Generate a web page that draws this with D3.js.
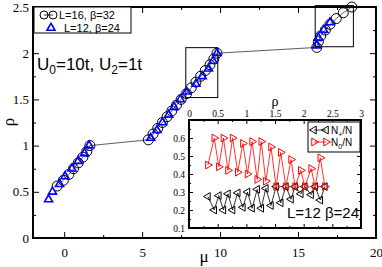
<!DOCTYPE html>
<html>
<head>
<meta charset="utf-8">
<script src="https://cdn.jsdelivr.net/npm/d3@7"></script>
<style>
  body { margin: 0; background: #fff; }
  .tk text { font-family: "Liberation Serif", "Times New Roman", serif; }
</style>
</head>
<body>
<div id="chart"></div>
<script>
// L=16, beta=32 (circles, joined by a line)
const muL16 = [-0.45, -0.05, 0.3, 0.6, 0.9, 1.2, 1.45, 1.65,
  5.4, 5.7, 6.0, 6.3, 6.6, 6.9, 7.2, 7.5, 7.85, 8.15, 8.45, 8.75, 9.05, 9.35, 9.6, 9.8,
  16.2, 16.3, 16.45, 16.75, 17.05, 17.45, 17.9, 18.45];
const rhoL16 = [0.5625, 0.625, 0.6875, 0.75, 0.8125, 0.875, 0.9375, 1.0,
  1.0625, 1.125, 1.1875, 1.25, 1.3125, 1.375, 1.4375, 1.5, 1.5625, 1.625, 1.6875, 1.75, 1.8125, 1.875, 1.9375, 2.0,
  2.0625, 2.125, 2.1875, 2.25, 2.3125, 2.375, 2.4375, 2.5];

// L=12, beta=24 (triangles)
const muL12 = [-1.0, -0.75, -0.3, 0.05, 0.5, 0.9, 1.3, 1.6,
  5.55, 5.95, 6.3, 6.7, 7.05, 7.45, 7.85, 8.45, 8.85, 9.25, 9.55, 9.8,
  16.2, 16.3, 16.65, 17.05];
const rhoL12 = [0.417, 0.5, 0.583, 0.667, 0.75, 0.833, 0.917, 1.0,
  1.083, 1.167, 1.25, 1.333, 1.417, 1.5, 1.583, 1.667, 1.75, 1.833, 1.917, 2.0,
  2.083, 2.167, 2.25, 2.333];

// highlighted windows [mu0, mu1, rho0, rho1]
const boxes = [[7.8, 9.85, 1.52, 2.06], [16.1, 18.55, 2.07, 2.515]];

// inset: fractions vs rho, L=12 beta=24
const rhoIn = [0.33, 0.44, 0.52, 0.60, 0.68, 0.76, 0.85, 0.94, 1.02, 1.10, 1.19, 1.26, 1.34,
  1.43, 1.52, 1.60, 1.69, 1.78, 1.85, 1.95, 2.02, 2.13, 2.20, 2.29, 2.37];
const n0 = [0.45, 0.60, 0.44, 0.60, 0.42, 0.60, 0.41, 0.57, 0.40, 0.58, 0.37, 0.58, 0.36,
  0.55, 0.33, 0.52, 0.33, 0.48, 0.33, 0.42, 0.33, 0.43, 0.33, 0.49, 0.33];
const nPlus = [0.275, 0.20, 0.28, 0.20, 0.29, 0.20, 0.295, 0.215, 0.30, 0.21, 0.315, 0.21, 0.32,
  0.225, 0.33, 0.24, 0.33, 0.26, 0.33, 0.29, 0.33, 0.285, 0.33, 0.255, 0.33];

const xTicks = [0, 5, 10, 15, 20];
const yTicks = [0, 0.5, 1, 1.5, 2, 2.5];
const xiTicks = [0, 0.5, 1, 1.5, 2, 2.5, 3];
const yiTicks = [0.1, 0.2, 0.3, 0.4, 0.5, 0.6];

const W = 382, H = 267;
const sans = "'Liberation Sans', Arial, sans-serif";
const serif = "'Liberation Serif', 'Times New Roman', serif";

const svg = d3.select("#chart").append("svg")
    .attr("width", W)
    .attr("height", H);

const x = d3.scaleLinear().domain([-2, 20]).range([33, 376]);
const y = d3.scaleLinear().domain([0, 2.5]).range([238, 7]);

// draws inward ticks on all four sides of a frame
function frameAxes(g, xs, ys, xt, yt, xm, ym, big, small, fs, showTop, showBottom) {
    const [x0, x1] = xs.range();
    const [y0, y1] = ys.range();
    const fmt = d => d3.format("")(d);
    g.append("g").attr("class", "tk").attr("transform", `translate(0,${y0})`)
        .call(d3.axisBottom(xs).tickValues(xt).tickSizeInner(-big).tickSizeOuter(0).tickPadding(big + 4)
            .tickFormat(showBottom ? fmt : ""));
    g.append("g").attr("class", "tk").attr("transform", `translate(0,${y0})`)
        .call(d3.axisBottom(xs).tickValues(xm).tickSize(-small).tickFormat(""));
    g.append("g").attr("class", "tk").attr("transform", `translate(0,${y1})`)
        .call(d3.axisTop(xs).tickValues(xt).tickSizeInner(-big).tickSizeOuter(0).tickPadding(3)
            .tickFormat(showTop ? fmt : ""));
    g.append("g").attr("class", "tk").attr("transform", `translate(0,${y1})`)
        .call(d3.axisTop(xs).tickValues(xm).tickSize(-small).tickFormat(""));
    g.append("g").attr("class", "tk").attr("transform", `translate(${x0},0)`)
        .call(d3.axisLeft(ys).tickValues(yt).tickSizeInner(-big).tickSizeOuter(0).tickPadding(4).tickFormat(fmt));
    g.append("g").attr("class", "tk").attr("transform", `translate(${x0},0)`)
        .call(d3.axisLeft(ys).tickValues(ym).tickSize(-small).tickFormat(""));
    g.append("g").attr("class", "tk").attr("transform", `translate(${x1},0)`)
        .call(d3.axisRight(ys).tickValues(yt).tickSizeInner(-big).tickSizeOuter(0).tickFormat(""));
    g.append("g").attr("class", "tk").attr("transform", `translate(${x1},0)`)
        .call(d3.axisRight(ys).tickValues(ym).tickSize(-small).tickFormat(""));
    g.selectAll(".tk .domain").remove();
    g.selectAll(".tk text").style("font-size", fs + "px").attr("fill", "#000");
    g.selectAll(".tk line").attr("stroke", "#000");
    g.append("rect")
        .attr("x", x0).attr("y", y1)
        .attr("width", x1 - x0).attr("height", y0 - y1)
        .attr("fill", "none").attr("stroke", "#000").attr("stroke-width", 2);
}

// main frame
const main = svg.append("g");
frameAxes(main, x, y, xTicks, yTicks,
    [-2, 2.5, 7.5, 12.5, 17.5], [0.25, 0.75, 1.25, 1.75, 2.25],
    6, 3, 13, false, true);

// axis labels
svg.append("text")
    .attr("x", 204).attr("y", 262)
    .attr("text-anchor", "middle")
    .style("font-family", serif).style("font-size", "17px")
    .text("μ");
svg.append("text")
    .attr("transform", "translate(14,122) rotate(-90)")
    .attr("text-anchor", "middle")
    .style("font-family", serif).style("font-size", "17px")
    .text("ρ");

// highlight boxes
svg.append("g").selectAll("rect")
    .data(boxes)
    .enter()
    .append("rect")
      .attr("x", d => x(d[0]))
      .attr("y", d => y(d[3]))
      .attr("width", d => x(d[1]) - x(d[0]))
      .attr("height", d => y(d[2]) - y(d[3]))
      .attr("fill", "none")
      .attr("stroke", "#000")
      .attr("stroke-width", 1);

// L=16 line + circles
const l16 = muL16.map((m, i) => ({ mu: m, rho: rhoL16[i] }));
svg.append("path")
    .datum(l16)
    .attr("fill", "none")
    .attr("stroke", "#333")
    .attr("stroke-width", 0.8)
    .attr("d", d3.line().x(d => x(d.mu)).y(d => y(d.rho)));
svg.append("g").selectAll("circle")
    .data(l16)
    .enter()
    .append("circle")
      .attr("cx", d => x(d.mu))
      .attr("cy", d => y(d.rho))
      .attr("r", 5)
      .attr("fill", "none")
      .attr("stroke", "#000")
      .attr("stroke-width", 1);

// L=12 triangles
const tri = d3.symbol().type(d3.symbolTriangle).size(28);
const l12 = muL12.map((m, i) => ({ mu: m, rho: rhoL12[i] }));
svg.append("g").selectAll("path")
    .data(l12)
    .enter()
    .append("path")
      .attr("d", tri)
      .attr("transform", d => `translate(${x(d.mu)},${y(d.rho)})`)
      .attr("fill", "none")
      .attr("stroke", "#0000ff")
      .attr("stroke-width", 1.6);

// legend
svg.append("rect")
    .attr("x", 34).attr("y", 7).attr("width", 97).attr("height", 26)
    .attr("fill", "#fff").attr("stroke", "#000").attr("stroke-width", 1);
svg.append("line")
    .attr("x1", 44).attr("x2", 53).attr("y1", 15).attr("y2", 15)
    .attr("stroke", "#000").attr("stroke-width", 0.8);
[44, 53].forEach(cx => {
    svg.append("circle")
        .attr("cx", cx).attr("cy", 15).attr("r", 4)
        .attr("fill", "none").attr("stroke", "#000").attr("stroke-width", 1);
});
svg.append("path")
    .attr("d", tri)
    .attr("transform", "translate(51,28)")
    .attr("fill", "none").attr("stroke", "#0000ff").attr("stroke-width", 1.6);
svg.append("text")
    .attr("x", 59).attr("y", 19)
    .style("font-family", sans).style("font-size", "11px")
    .text("L=16, β=32");
svg.append("text")
    .attr("x", 64).attr("y", 32)
    .style("font-family", sans).style("font-size", "11px")
    .text("L=12, β=24");

// interaction label
const ut = svg.append("text")
    .attr("x", 37).attr("y", 70)
    .style("font-family", sans).style("font-size", "17px");
ut.append("tspan").text("U");
ut.append("tspan").attr("dy", 4).style("font-size", "12px").text("0");
ut.append("tspan").attr("dy", -4).text("=10t, U");
ut.append("tspan").attr("dy", 4).style("font-size", "12px").text("2");
ut.append("tspan").attr("dy", -4).text("=1t");

// ---------- inset ----------
const xi = d3.scaleLinear().domain([0, 3]).range([189, 361]);
const yi = d3.scaleLinear().domain([0.1, 0.7]).range([228, 120]);

const inset = svg.append("g");
inset.append("rect")
    .attr("x", 189).attr("y", 120).attr("width", 172).attr("height", 108)
    .attr("fill", "#fff");
frameAxes(inset, xi, yi, xiTicks, d3.range(0.1, 0.71, 0.1), d3.range(0.25, 3, 0.5),
    d3.range(0.15, 0.7, 0.1), 4, 2, 9.5, true, false);
// only 0.1 ... 0.6 are labelled on the left
inset.selectAll(".tk text").filter(function() { return this.textContent === "0.7"; }).remove();

inset.append("text")
    .attr("x", xi(1.5)).attr("y", 106)
    .attr("text-anchor", "middle")
    .style("font-family", serif).style("font-size", "14px")
    .text("ρ");

const rTri = d3.symbol().type(d3.symbolTriangle).size(26);
const seriesIn = [
    { vals: nPlus, color: "#000", rot: -90 },
    { vals: n0, color: "#ff0000", rot: 90 }
];
seriesIn.forEach(s => {
    const pts = rhoIn.map((r, i) => ({ r: r, v: s.vals[i] }));
    inset.append("path")
        .datum(pts)
        .attr("fill", "none")
        .attr("stroke", s.color)
        .attr("stroke-width", 0.8)
        .attr("d", d3.line().x(d => xi(d.r)).y(d => yi(d.v)));
    inset.append("g").selectAll("path")
        .data(pts)
        .enter()
        .append("path")
          .attr("d", rTri)
          .attr("transform", d => `translate(${xi(d.r)},${yi(d.v)}) rotate(${s.rot})`)
          .attr("fill", "none")
          .attr("stroke", s.color)
          .attr("stroke-width", 1);
});

// inset legend
inset.append("rect")
    .attr("x", 308).attr("y", 122).attr("width", 52).attr("height", 30)
    .attr("fill", "#fff").attr("stroke", "#000").attr("stroke-width", 1);
seriesIn.forEach((s, i) => {
    const ly = 130 + i * 12;
    inset.append("line")
        .attr("x1", 314).attr("x2", 326).attr("y1", ly).attr("y2", ly)
        .attr("stroke", s.color).attr("stroke-width", 0.8);
    [314, 326].forEach(cx => {
        inset.append("path")
            .attr("d", rTri)
            .attr("transform", `translate(${cx},${ly}) rotate(${s.rot})`)
            .attr("fill", "none").attr("stroke", s.color).attr("stroke-width", 1);
    });
    const t = inset.append("text")
        .attr("x", 331).attr("y", ly + 4)
        .style("font-family", sans).style("font-size", "10px");
    t.append("tspan").text("N");
    t.append("tspan").attr("dy", 3).style("font-size", "7px").text(i === 0 ? "+" : "0");
    t.append("tspan").attr("dy", -3).text("/N");
});

inset.append("text")
    .attr("x", 359).attr("y", 218)
    .attr("text-anchor", "end")
    .style("font-family", sans).style("font-size", "15px")
    .text("L=12 β=24");
</script>
</body>
</html>
